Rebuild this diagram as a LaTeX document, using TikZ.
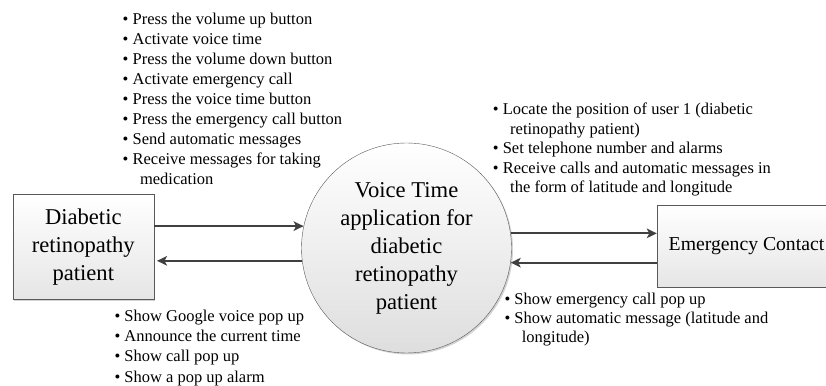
\documentclass[tikz,border=0pt]{standalone}
\usepackage{fontspec}
\setmainfont{Liberation Serif}
\usetikzlibrary{arrows.meta,shadows}

\begin{document}
\begin{tikzpicture}[
        x=1pt, y=1pt,
        entity/.style={rectangle, draw=black!65, top color=white, bottom color=black!10, drop shadow={shadow xshift=1.5pt, shadow yshift=-1.5pt, opacity=0.35}, align=center, inner sep=0pt},
        process/.style={circle, draw=black!65, top color=white, bottom color=black!13, drop shadow={shadow xshift=1.5pt, shadow yshift=-1.5pt, opacity=0.35}, minimum size=210pt, inner sep=0pt, align=center, font=\fontsize{22.6}{28}\selectfont},
        flow/.style={-{Stealth[length=10pt, width=9.5pt, inset=2.5pt]}, line width=1.9pt, draw=black!75},
        notes/.style={anchor=base west, inner sep=0pt, align=left, font=\fontsize{16.5}{20}\selectfont}
    ]
    \useasboundingbox (0,0) rectangle (826,385);
    \clip (0,0) rectangle (826,385);

    \node[entity, minimum width=141pt, minimum height=105pt, font=\fontsize{22.6}{28}\selectfont] (patient) at (83.3,138.3) {Diabetic\\retinopathy\\patient};
    \node[process] (app) at (406.5,137) {Voice Time\\application for\\diabetic\\retinopathy\\patient};
    \node[entity, minimum width=179pt, minimum height=82pt, font=\fontsize{19.7}{24}\selectfont] (contact) at (746.5,139) {Emergency Contact};

    \draw[flow] (patient.east |- app.168.5) -- (app.168.5);
    \draw[flow, shorten >=3pt] (app.187.1) -- (patient.east |- app.187.1);
    \draw[flow] (app.8.6) -- (contact.west |- app.8.6);
    \draw[flow] (contact.west |- app.352) -- (app.352);

    % lists are placed by the baseline of their last line
    \node[notes] (cmds) at (122.5,200) {\textbullet\ Press the volume up button\\
        \textbullet\ Activate voice time\\
        \textbullet\ Press the volume down button\\
        \textbullet\ Activate emergency call\\
        \textbullet\ Press the voice time button\\
        \textbullet\ Press the emergency call button\\
        \textbullet\ Send automatic messages\\
        \textbullet\ Receive messages for taking\\
        \hspace*{1.05em}medication};
    \node[notes, font=\fontsize{16.5}{19.4}\selectfont] (locate) at (492.7,192.4) {\textbullet\ Locate the position of user 1 (diabetic\\
        \hspace*{1.05em}retinopathy patient)\\
        \textbullet\ Set telephone number and alarms\\
        \textbullet\ Receive calls and automatic messages in\\
        \hspace*{1.05em}the form of latitude and longitude};
    \node[notes] (shows) at (114.3,3) {\textbullet\ Show Google voice pop up\\
        \textbullet\ Announce the current time\\
        \textbullet\ Show call pop up\\
        \textbullet\ Show a pop up alarm};
    \node[notes, font=\fontsize{16.5}{19}\selectfont] (alerts) at (504.3,42) {\textbullet\ Show emergency call pop up\\
        \textbullet\ Show automatic message (latitude and\\
        \hspace*{1.05em}longitude)};

\end{tikzpicture}
\end{document}
